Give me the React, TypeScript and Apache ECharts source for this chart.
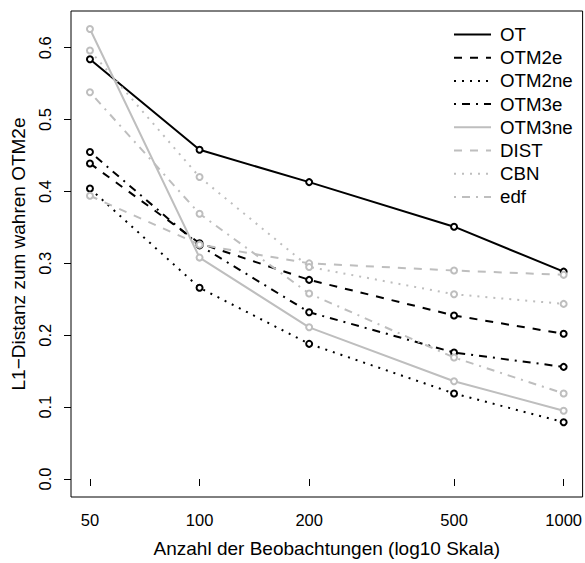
import React, { useEffect, useRef } from "react";
import * as echarts from "echarts";

const N = [50, 100, 200, 500, 1000];
const seriesNames = ["OT", "OTM2e", "OTM2ne", "OTM3e", "OTM3ne", "DIST", "CBN", "edf"];
const OT = [0.584, 0.458, 0.413, 0.351, 0.2885];
const OTM2e = [0.439, 0.328, 0.277, 0.2275, 0.202];
const OTM2ne = [0.404, 0.266, 0.188, 0.119, 0.079];
const OTM3e = [0.455, 0.325, 0.232, 0.176, 0.156];
const OTM3ne = [0.626, 0.308, 0.211, 0.136, 0.095];
const DIST = [0.394, 0.326, 0.300, 0.290, 0.284];
const CBN = [0.596, 0.420, 0.295, 0.257, 0.2436];
const edf = [0.538, 0.369, 0.258, 0.169, 0.119];
const yTicks = [0, 0.1, 0.2, 0.3, 0.4, 0.5, 0.6];
const xTicks = [50, 100, 200, 500, 1000];

const FONT = "'Liberation Sans', Arial, Helvetica, sans-serif";
const BLACK = "#000000";
const GRAY = "#bebebe";
const DASHED = [8, 8];
const DOTTED = [2, 6];
const DOTDASH = [2, 6, 8, 6];

export default function App() {
  const ref = useRef<HTMLDivElement>(null);
  useEffect(() => {
    if (!ref.current) return;
    const chart = echarts.init(ref.current, undefined, { renderer: "svg" });
    const values = [OT, OTM2e, OTM2ne, OTM3e, OTM3ne, DIST, CBN, edf];
    const colors = [BLACK, BLACK, BLACK, BLACK, GRAY, GRAY, GRAY, GRAY];
    const types: any[] = ["solid", DASHED, DOTTED, DOTDASH, "solid", DASHED, DOTTED, DOTDASH];

    const lx0 = Math.log10(N[0]);
    const lx1 = Math.log10(N[N.length - 1]);
    const xr = lx1 - lx0;
    const allVals = values.flat();
    const yMaxData = Math.max(...allVals);
    const yMinData = 0;
    const yr = yMaxData - yMinData;

    const series = seriesNames.map((name, k) => ({
      name,
      type: "line",
      data: N.map((n, i) => [Math.log10(n), values[k][i]]),
      symbol: "circle",
      symbolSize: 6,
      itemStyle: { color: "#ffffff", borderColor: colors[k], borderWidth: 2 },
      lineStyle: { color: colors[k], width: 2, type: types[k], cap: "butt" },
      emphasis: { disabled: true },
    }));

    chart.setOption({
      animation: false,
      textStyle: { fontFamily: FONT },
      grid: {
        left: 71,
        right: 1,
        top: 11,
        bottom: 65,
        show: true,
        borderColor: "#000",
        borderWidth: 1,
        backgroundColor: "transparent",
      },
      legend: {
        orient: "vertical",
        left: 448,
        top: 20,
        itemWidth: 37,
        itemHeight: 14,
        itemGap: 4.2,
        itemStyle: { opacity: 0 },
        lineStyle: { width: 2 },
        textStyle: {
          fontSize: 18.7,
          lineHeight: 19,
          color: "#000",
          fontFamily: FONT,
          padding: [0, 0, 0, 4],
        },
        data: seriesNames,
      },
      xAxis: {
        type: "value",
        min: lx0 - 0.04 * xr,
        max: lx1 + 0.04 * xr,
        name: "Anzahl der Beobachtungen (log10 Skala)",
        nameLocation: "middle",
        nameGap: 42,
        nameTextStyle: { fontSize: 19, lineHeight: 19, color: "#000", fontFamily: FONT },
        axisLine: { show: false },
        splitLine: { show: false },
        axisTick: {
          show: true,
          length: 7,
          lineStyle: { color: "#000", width: 1 },
          customValues: xTicks.map((v) => Math.log10(v)),
        },
        axisLabel: {
          fontSize: 16.5,
          color: "#000",
          fontFamily: FONT,
          margin: 14,
          customValues: xTicks.map((v) => Math.log10(v)),
          formatter: (v: number) => String(Math.round(Math.pow(10, v))),
        },
      },
      yAxis: {
        type: "value",
        min: yMinData - 0.04 * yr,
        max: yMaxData + 0.04 * yr,
        name: "L1\u2212Distanz zum wahren OTM2e",
        nameLocation: "middle",
        nameGap: 41,
        nameRotate: 90,
        nameTextStyle: { fontSize: 19, lineHeight: 19, color: "#000", fontFamily: FONT },
        axisLine: { show: false },
        splitLine: { show: false },
        axisTick: {
          show: true,
          length: 7,
          lineStyle: { color: "#000", width: 1 },
          customValues: yTicks,
        },
        axisLabel: {
          fontSize: 16.5,
          color: "#000",
          fontFamily: FONT,
          rotate: 90,
          margin: 18,
          customValues: yTicks,
          formatter: (v: number) => v.toFixed(1),
        },
      },
      series,
    });
    return () => chart.dispose();
  }, []);

  return (
    <div
      ref={ref}
      style={{ position: "fixed", left: 0, top: 0, width: 585, height: 563, background: "#fff" }}
    />
  );
}
